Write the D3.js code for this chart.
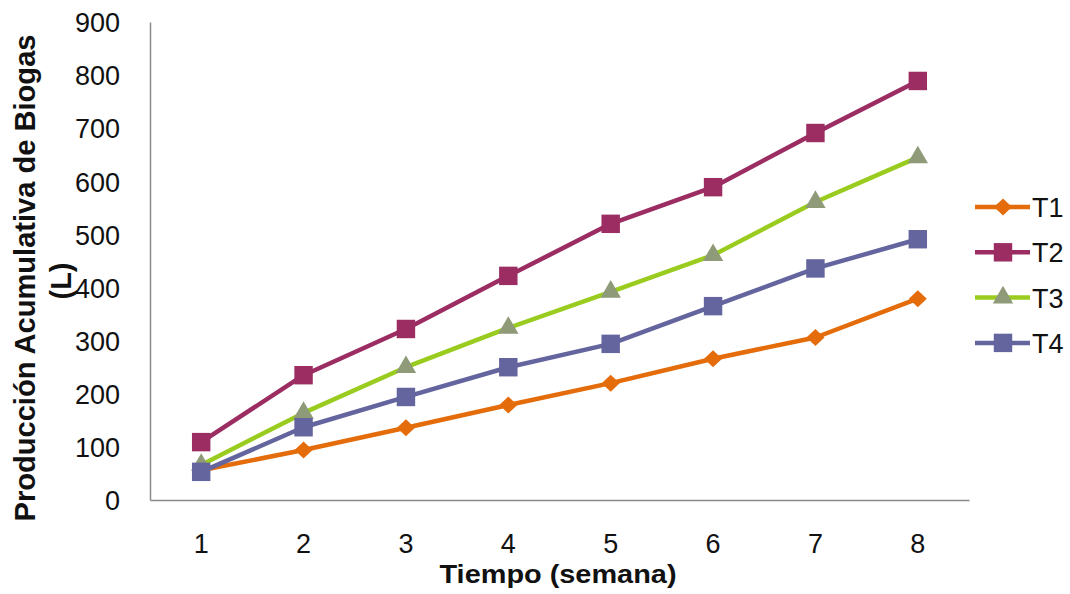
<!DOCTYPE html>
<html><head><meta charset="utf-8">
<script src="https://cdn.jsdelivr.net/npm/d3@7"></script>
<style>body{margin:0;background:#fff}svg{display:block;font-family:"Liberation Sans",Arial,sans-serif}</style>
</head><body><svg id="c" width="1070" height="594"></svg>
<script>
const weeks = [1,2,3,4,5,6,7,8];
const seriesNames = ["T1","T2","T3","T4"];
const t1 = [56,94,136,179,220,266,306,379];
const t2 = [109,235,322,422,520,589,691,789];
const t3 = [66,164,250,324,392,461,561,645];
const t4 = [53,137,194,250,294,365,436,491];
const yTicks = [0,100,200,300,400,500,600,700,800,900];
const colors = ["#E46C0A","#9B2D62","#99CC1F","#64649E"];
const markerFill = ["#E46C0A","#9B2D62","#8E9A78","#64649E"];
const data = [t1,t2,t3,t4];

(function(){
const diamond = { draw(ctx, size){ const w=9, h=8.5; ctx.moveTo(0,-h); ctx.lineTo(w,0); ctx.lineTo(0,h); ctx.lineTo(-w,0); ctx.closePath(); } };
const shapes = [diamond, d3.symbolSquare, d3.symbolTriangle, d3.symbolSquare];
const sizes = [1, 340, 180, 340];

const svg = d3.select("#c");
const mLeft = 150, mRight = 969, mTop = 22, mBottom = 500;
const x = d3.scaleBand().domain(weeks).range([mLeft,mRight]);
const y = d3.scaleLinear().domain([0,900]).range([mBottom,mTop]);

const yAxis = svg.append("g").attr("transform",`translate(${mLeft},0)`)
  .call(d3.axisLeft(y).tickValues(yTicks).tickSize(0).tickPadding(30));
yAxis.select(".domain").attr("stroke","#8a8a8a").attr("stroke-width",1.5);
yAxis.selectAll("text").attr("font-size",27).attr("fill","#111").attr("font-family","Liberation Sans, Arial").attr("dy","0.36em");

const xAxis = svg.append("g").attr("transform",`translate(0,${mBottom})`)
  .call(d3.axisBottom(x).tickSize(0).tickPadding(0));
xAxis.select(".domain").attr("stroke","#8a8a8a").attr("stroke-width",1.5);
xAxis.selectAll("text").attr("font-size",27).attr("fill","#111").attr("font-family","Liberation Sans, Arial").attr("y",53).attr("dy",0);

svg.append("text").attr("x",558).attr("y",583).attr("text-anchor","middle")
  .attr("font-size",25).attr("font-weight","bold").attr("fill","#111")
  .attr("textLength",237).attr("lengthAdjust","spacingAndGlyphs").text("Tiempo (semana)");
const yt = svg.append("text").attr("transform","translate(35,278) rotate(-90)")
  .attr("text-anchor","middle").attr("font-size",29).attr("font-weight","bold").attr("fill","#111");
yt.append("tspan").attr("x",0).attr("y",0).attr("textLength",487).attr("lengthAdjust","spacingAndGlyphs").text("Producción Acumulativa de Biogas");
yt.append("tspan").attr("x",-3).attr("y",36).text("(L)");

const line = d3.line().x((d,i)=>x(weeks[i])+x.bandwidth()/2).y(d=>y(d));
data.forEach((s,k)=>{
  svg.append("path").datum(s).attr("d",line).attr("fill","none")
    .attr("stroke",colors[k]).attr("stroke-width",4.5).attr("stroke-linejoin","round");
});
data.forEach((s,k)=>{
  svg.append("g").selectAll("path").data(s).join("path")
    .attr("d",d3.symbol().type(shapes[k]).size(sizes[k]))
    .attr("transform",(d,i)=>`translate(${x(weeks[i])+x.bandwidth()/2},${y(d)})`)
    .attr("fill",markerFill[k]);
});

const lg = svg.append("g");
seriesNames.forEach((n,k)=>{
  const cy = 207 + k*45.3;
  lg.append("line").attr("x1",975).attr("x2",1030).attr("y1",cy).attr("y2",cy)
    .attr("stroke",colors[k]).attr("stroke-width",4.5);
  lg.append("path").attr("d",d3.symbol().type(shapes[k]).size(sizes[k]))
    .attr("transform",`translate(1003,${cy})`).attr("fill",markerFill[k]);
  lg.append("text").attr("x",1032).attr("y",cy+10).attr("font-size",27).attr("fill","#111").text(n);
});
})();
</script></body></html>
